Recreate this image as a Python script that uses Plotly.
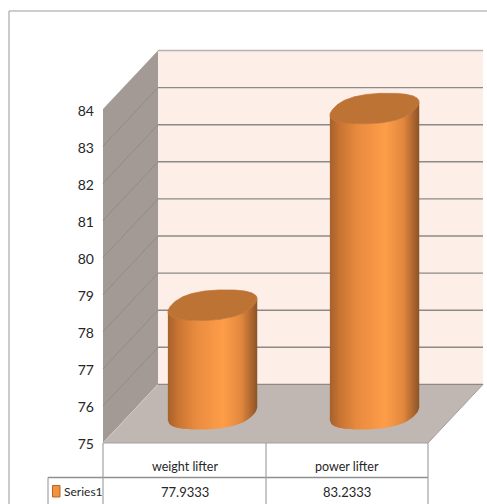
import numpy as np
import plotly.graph_objects as go

# Chart values
categories = ["weight lifter", "power lifter"]
series_name = "Series1"
series_values = [77.9333, 83.2333]
value_ticks = [75, 76, 77, 78, 79, 80, 81, 82, 83, 84]
axis_floor = 75

WIDTH, HEIGHT = 487, 504
FONT = "Lato"
TEXT = "#262626"

# Projection of the 3D box on the page, in pixels
PX_PER_UNIT = 37.1
PX_PER_CAT = 162.0
CAT0_X = 212.5
MID_BASE_Y = 414.0
FRONT_BASE_Y = 443.0
BACK_BASE_Y = 384.4
FRONT_L, FRONT_R = 103.0, 428.0
BACK_L, BACK_R = 158.0, 483.0
TICK_LABEL_BASE_Y = 444.5

# Cylinder cross-section, a sheared rounded ellipse, in pixels
CYL_RX, CYL_SX, CYL_SY, CYL_POWER = 41.2, 13.2, 15.3, 0.82


def px(x):
    return x / WIDTH


def py(y):
    return 1 - y / HEIGHT


def polygon(points, fill, line=None, width=0):
    path = "M " + " L ".join(f"{px(x):.5f},{py(y):.5f}" for x, y in points) + " Z"
    return dict(type="path", xref="paper", yref="paper", path=path, fillcolor=fill,
                line=dict(color=line or fill, width=width), layer="below")


def segment(x0, y0, x1, y1, color, width=1.0):
    return dict(type="line", xref="paper", yref="paper", x0=px(x0), y0=py(y0), x1=px(x1), y1=py(y1),
                line=dict(color=color, width=width), layer="below")


def back_y(v):
    return BACK_BASE_Y - (v - axis_floor) * PX_PER_UNIT


def front_y(v):
    return FRONT_BASE_Y - (v - axis_floor) * PX_PER_UNIT


top_tick = value_ticks[-1]
shapes = [
    # Chart frame
    segment(9, 11, 487, 11, "#9c9c9c", 1.2),
    segment(9, 11, 9, 504, "#a8a8a8", 1.2),
    # Walls and floor
    polygon([(BACK_L, back_y(top_tick)), (BACK_R, back_y(top_tick)), (BACK_R, BACK_BASE_Y), (BACK_L, BACK_BASE_Y)], "#fdefe8"),
    polygon([(FRONT_L, front_y(top_tick)), (BACK_L, back_y(top_tick)), (BACK_L, BACK_BASE_Y), (FRONT_L, FRONT_BASE_Y)], "#a39a96"),
    polygon([(FRONT_L, FRONT_BASE_Y), (FRONT_R, FRONT_BASE_Y), (BACK_R, BACK_BASE_Y), (BACK_L, BACK_BASE_Y)], "#c0b6b2"),
    segment(FRONT_L, FRONT_BASE_Y, BACK_L, BACK_BASE_Y, "#cfcac7", 1),
    segment(FRONT_R, FRONT_BASE_Y, BACK_R, BACK_BASE_Y, "#a5a09d", 1),
]

# Gridlines on the back and side walls
for v in value_ticks:
    color = "#b5b2b0" if v == top_tick else "#8d8986"
    shapes.append(segment(BACK_L, back_y(v), BACK_R, back_y(v), color, 1.4))
    if v != axis_floor and v != top_tick:
        shapes.append(segment(FRONT_L, front_y(v), BACK_L, back_y(v), "#8f8985", 0.9))

# Data table rules
TABLE_RULE = "#a2a2a2"
shapes += [
    segment(FRONT_L, 443, FRONT_R, 443, TABLE_RULE, 1.2),
    segment(48, 477.5, FRONT_R, 477.5, "#8f8f8f", 1.6),
    segment(48, 477.5, 48, 504, TABLE_RULE, 1.2),
    segment(FRONT_L, 443, FRONT_L, 504, TABLE_RULE, 1.2),
    segment(266, 443, 266, 504, TABLE_RULE, 1.2),
    segment(FRONT_R, 443, FRONT_R, 504, TABLE_RULE, 1.2),
]
# Legend key in the data table
shapes.append(polygon([(52.5, 485.5), (60, 485.5), (60, 497), (52.5, 497)], "#f2933f", "#b4642a", 1))

# Axis windows that place value and category on the page
x_range = [(0 - CAT0_X) / PX_PER_CAT, (WIDTH - CAT0_X) / PX_PER_CAT]
y_range = [axis_floor - (HEIGHT - MID_BASE_Y) / PX_PER_UNIT, axis_floor + MID_BASE_Y / PX_PER_UNIT]
y2_range = [axis_floor - (HEIGHT - TICK_LABEL_BASE_Y) / PX_PER_UNIT, axis_floor + TICK_LABEL_BASE_Y / PX_PER_UNIT]

SHADE_STOPS = [(0.0, (166, 98, 44)), (0.10, (198, 114, 50)), (0.30, (232, 138, 62)),
               (0.62, (254, 158, 74)), (0.82, (226, 136, 62)), (0.93, (176, 104, 48)), (1.0, (140, 84, 38))]
CAP_COLOR = "#bd7334"


def shade(f):
    fs = [s[0] for s in SHADE_STOPS]
    rgb = [np.interp(f, fs, [s[1][i] for s in SHADE_STOPS]) for i in range(3)]
    return "rgb({:.0f},{:.0f},{:.0f})".format(*rgb)


# Outline of the cross-section around its centre, in pixels
theta = np.linspace(0, 2 * np.pi, 721)
sin_p = np.sign(np.sin(theta)) * np.abs(np.sin(theta)) ** CYL_POWER
cos_p = np.sign(np.cos(theta)) * np.abs(np.cos(theta)) ** CYL_POWER
outline_x = CYL_RX * cos_p + CYL_SX * sin_p
outline_y = CYL_SY * sin_p

# Lower run of the outline, from its leftmost to its rightmost point
left_i, right_i = int(np.argmin(outline_x)), int(np.argmax(outline_x[:-1]))
order = (np.arange(left_i, right_i + 721) % 720)[: (right_i - left_i) % 720 + 1]
lower_x, lower_y = outline_x[order], outline_y[order]
half_left, half_right = outline_x.min(), outline_x.max()

n_strips = 90
edges = np.linspace(half_left, half_right, n_strips + 1)


def lower_edge(d):
    return np.interp(d, lower_x, lower_y)


fig = go.Figure()
for i, value in enumerate(series_values):
    # Each strip runs under the next one so the shading has no seams
    for k in range(n_strips):
        d0, d1 = edges[k], edges[min(k + 2, n_strips)]
        xs = [i + d0 / PX_PER_CAT, i + d1 / PX_PER_CAT, i + d1 / PX_PER_CAT, i + d0 / PX_PER_CAT]
        y0, y1 = lower_edge(d0) / PX_PER_UNIT, lower_edge(d1) / PX_PER_UNIT
        ys = [axis_floor + y0, axis_floor + y1, value + y1, value + y0]
        fig.add_trace(go.Scatter(x=xs, y=ys, mode="lines", fill="toself", fillcolor=shade((k + 0.5) / n_strips),
                                 line=dict(width=0), hoverinfo="skip", showlegend=False))
    # Top cap of the cylinder
    fig.add_trace(go.Scatter(x=i + outline_x / PX_PER_CAT, y=value + outline_y / PX_PER_UNIT,
                             mode="lines", fill="toself", fillcolor=CAP_COLOR,
                             line=dict(color=CAP_COLOR, width=0.7), hoverinfo="skip", showlegend=False))

# Carries the value axis printed along the front edge of the box
fig.add_trace(go.Scatter(x=[0, 0], y=[value_ticks[0], value_ticks[-1]], yaxis="y2", mode="markers",
                         marker=dict(opacity=0, size=1), hoverinfo="skip", showlegend=False))

# Data table text
annotations = []
for i, (name, value) in enumerate(zip(categories, series_values)):
    cx = (FRONT_L + 266) / 2 if i == 0 else (266 + FRONT_R) / 2
    annotations.append(dict(x=px(cx), y=py(466), xref="paper", yref="paper", text=name, showarrow=False,
                            font=dict(family=FONT, size=12.5, color=TEXT), xanchor="center", yanchor="middle"))
    annotations.append(dict(x=px(cx), y=py(491.5), xref="paper", yref="paper", text=f"{value:.4f}", showarrow=False,
                            font=dict(family=FONT, size=13, color=TEXT), xanchor="center", yanchor="middle"))
annotations.append(dict(x=px(61.5), y=py(491), xref="paper", yref="paper", text=series_name, showarrow=False,
                        font=dict(family=FONT, size=12, color=TEXT), xanchor="left", yanchor="middle"))

fig.update_layout(
    width=WIDTH, height=HEIGHT,
    margin=dict(l=0, r=0, t=0, b=0),
    paper_bgcolor="white", plot_bgcolor="rgba(0,0,0,0)",
    showlegend=False,
    shapes=shapes,
    annotations=annotations,
    xaxis=dict(range=x_range, visible=False, fixedrange=True),
    yaxis=dict(range=y_range, visible=False, fixedrange=True),
    yaxis2=dict(range=y2_range, overlaying="y", anchor="free", position=px(94), side="left",
                tickmode="array", tickvals=value_ticks, ticktext=[str(v) for v in value_ticks],
                ticks="", showgrid=False, zeroline=False, showline=False,
                tickfont=dict(family=FONT, size=14, color=TEXT), fixedrange=True),
)

fig.write_html("out.html", config=dict(displayModeBar=False))
